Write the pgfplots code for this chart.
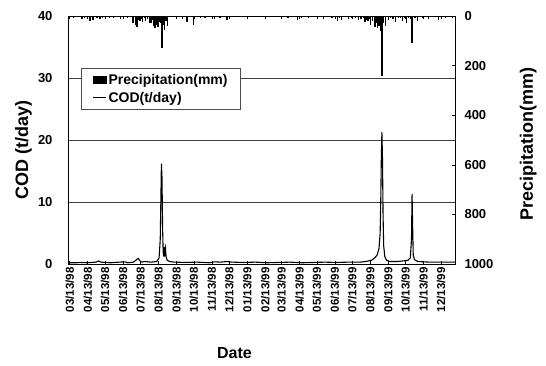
\documentclass[border=0pt]{standalone}
\usepackage{fontspec}
\setmainfont{Liberation Sans}
\usepackage{pgfplots}
\usepackage{pgfplotstable}
\pgfplotsset{compat=1.18}

\pgfplotstableread{
day cod
0 0.2
10 0.2
20 0.25
30 0.2
45 0.3
50 0.5
53 0.3
70 0.2
85 0.3
95 0.35
100 0.2
110 0.3
115 0.7
118 0.9
121 0.5
124 0.3
130 0.4
140 0.3
150 0.4
154 1.0
156 4
157 10
158 16.2
159 14
160 6
161 2
162 1.2
163 2.7
164 1.8
165 2.5
166 1.2
168 0.6
172 0.4
180 0.3
200 0.25
220 0.3
240 0.2
250 0.35
260 0.3
270 0.4
280 0.3
300 0.25
320 0.3
340 0.2
360 0.25
380 0.3
400 0.2
420 0.25
440 0.3
460 0.25
480 0.3
500 0.3
510 0.4
520 0.6
526 1.0
530 1.5
533 2.5
535 5
536 10
537 17
538 21.3
539 17
540 8
541 3
543 1.2
546 0.6
552 0.4
565 0.4
575 0.5
583 0.6
587 1.0
589 4
590 11.3
591 6
592 1.5
594 0.7
600 0.4
620 0.3
640 0.3
664 0.3
}\codtable

\pgfplotstableread{
day mm
6 8
10 4
14 6
21 12
26 10
30 5
35 20
40 18
47 8
52 14
56 10
60 5
64 6
69 10
75 8
80 4
87 12
94 6
99 10
104 5
109 30
113 38
116 45
119 15
121 22
124 12
126 25
129 10
131 20
134 14
137 30
140 28
142 18
144 40
147 50
150 35
152 45
154 25
156 30
159 129
162 35
164 55
166 20
168 40
175 6
185 5
195 12
202 25
208 6
213 35
219 5
225 8
233 10
242 6
250 12
259 10
265 5
271 18
280 4
294 6
340 6
360 4
376 8
385 5
392 15
400 8
405 5
411 10
420 6
430 5
437 12
445 6
452 8
457 5
461 20
465 8
469 15
474 6
480 12
486 8
492 10
497 18
502 14
506 10
509 25
512 15
514 20
517 12
519 35
522 20
526 45
529 30
531 50
533 40
535 60
538 242
541 30
544 40
549 15
553 8
557 12
561 25
566 10
570 8
573 20
577 10
581 30
584 8
587 12
590 109
595 8
600 20
609 10
618 12
635 15
647 8
659 10
}\pcptable

\begin{document}
\begin{tikzpicture}
\useasboundingbox (0,0) rectangle (546pt,365pt);
\begin{axis}[
  at={(68pt,101pt)}, anchor=south west,
  scale only axis, width=387pt, height=248pt,
  xmin=-3, xmax=664, ymin=0, ymax=40,
  ytick={0,10,20,30,40},
  ymajorgrids, grid style={black!75, line width=0.8pt},
  xtick={0,31,61,92,122,153,184,214,245,275,306,337,365,396,426,457,487,518,549,579,610,640},
  xticklabels={03/13/98,04/13/98,05/13/98,06/13/98,07/13/98,08/13/98,09/13/98,10/13/98,11/13/98,12/13/98,01/13/99,02/13/99,03/13/99,04/13/99,05/13/99,06/13/99,07/13/99,08/13/99,09/13/99,10/13/99,11/13/99,12/13/99},
  xticklabel style={rotate=90, anchor=east, font=\fontsize{11.5}{11.5}\selectfont\bfseries},
  yticklabel style={font=\fontsize{13}{13}\selectfont\bfseries, xshift=-12pt},
  /pgf/number format/assume math mode=true,
  tick align=inside, major tick length=3pt, tick style={black, line width=0.6pt},
  ytick style={draw=none},
  axis line style={line width=0.7pt},
  ylabel={COD (t/day)},
  ylabel style={at={(axis description cs:-0.115,0.46)}, anchor=center, font=\fontsize{18}{18}\selectfont\bfseries},
  xlabel={Date},
  xlabel style={at={(axis description cs:0.43,-0.359)}, anchor=center, font=\fontsize{16}{16}\selectfont\bfseries},
]
\addplot[black, line width=1.1pt, mark=none, sharp plot] table[x=day, y=cod] {\codtable};
\end{axis}
\begin{axis}[
  at={(68pt,101pt)}, anchor=south west,
  scale only axis, width=387pt, height=248pt,
  xmin=-3, xmax=664, ymin=0, ymax=1000, y dir=reverse,
  axis y line*=right, axis x line=none,
  ytick={0,200,400,600,800,1000},
  yticklabel style={font=\fontsize{13}{13}\selectfont\bfseries, anchor=west, xshift=6pt},
  /pgf/number format/assume math mode=true,
  /pgf/number format/1000 sep={},
  tick align=inside, major tick length=3pt, tick style={black, line width=0.6pt},
  axis line style={line width=0.7pt},
  ylabel={Precipitation(mm)},
  ylabel style={at={(axis description cs:1.189,0.484)}, anchor=center, font=\fontsize{18}{18}\selectfont\bfseries},
  legend style={at={(axis description cs:0.034,0.79)}, anchor=north west,
    draw=black!70, line width=0.6pt, fill=white, font=\fontsize{14}{16}\selectfont\bfseries,
    inner xsep=11pt, inner ysep=4pt, row sep=2pt},
  legend cell align=left,
]
\addplot[ycomb, black, line width=1.2pt, mark=none, forget plot] table[x=day, y=mm] {\pcptable};
\addlegendimage{legend image code/.code={\fill[black] (0pt,-3.5pt) rectangle (13pt,3.5pt);}}
\addlegendentry{Precipitation(mm)}
\addlegendimage{legend image code/.code={\draw[black, line width=1.1pt] (0pt,0pt) -- (13pt,0pt);}}
\addlegendentry{COD(t/day)}
\end{axis}
\end{tikzpicture}
\end{document}
